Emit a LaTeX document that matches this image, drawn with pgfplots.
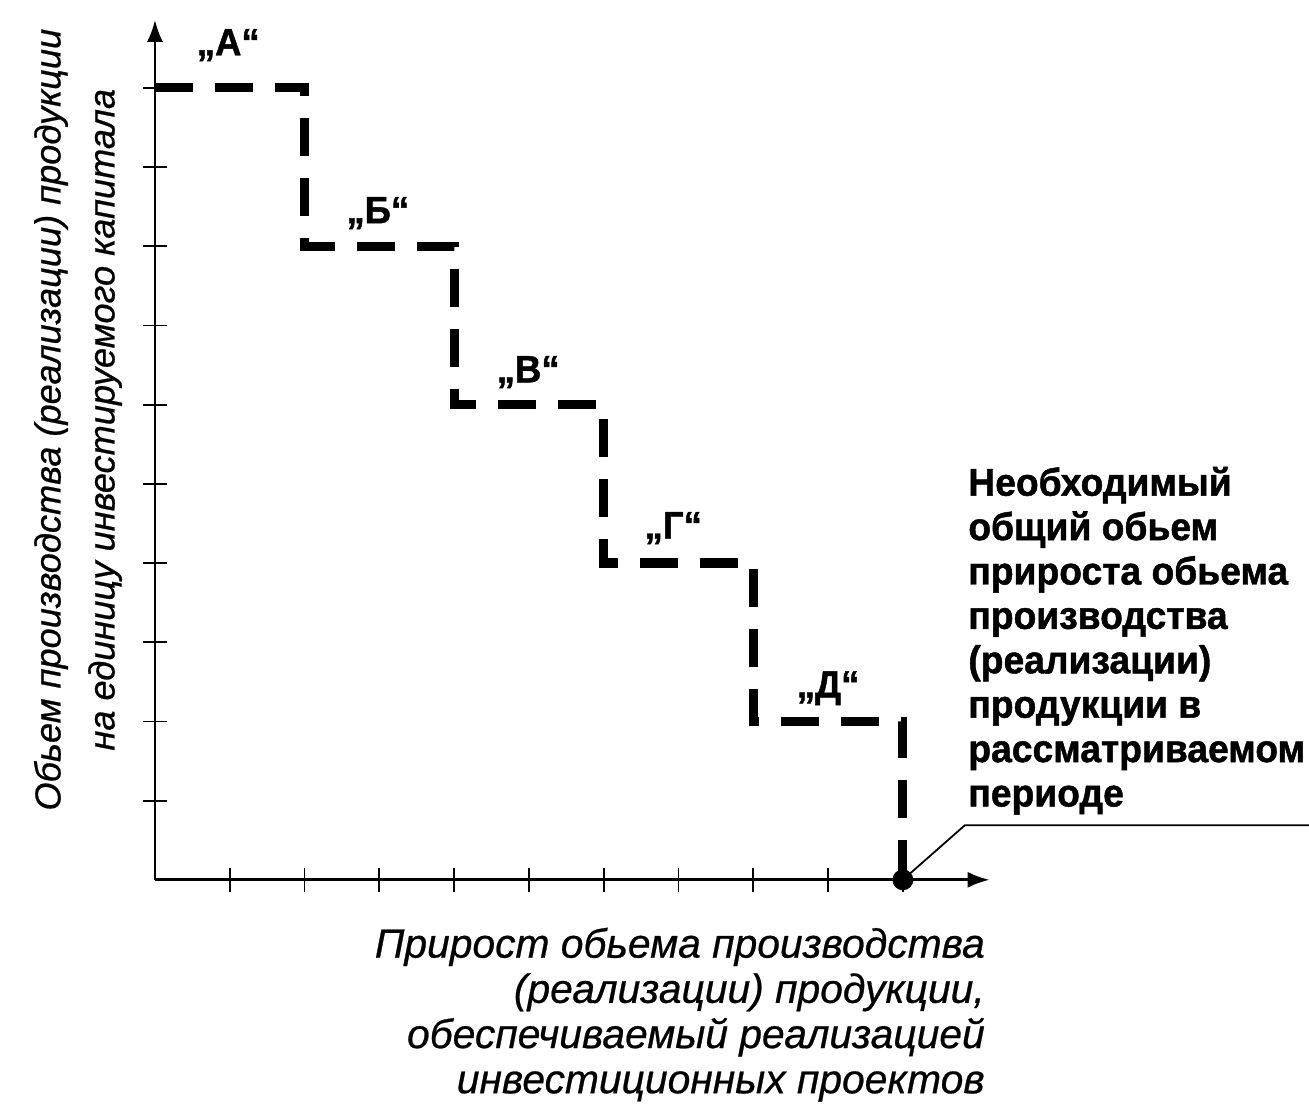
\documentclass[border=0pt]{standalone}
\usepackage{pgfplots}
\pgfplotsset{compat=1.18}
\usepackage{fontspec}
\usetikzlibrary{arrows.meta}
\setmainfont{Liberation Sans}[
  BoldFeatures={FakeBold=1.2, FakeStretch=0.96},
  ItalicFeatures={FakeBold=0.6}]

\begin{document}
\begin{tikzpicture}
\begin{axis}[
  x=37.4pt, y=39.6pt,
  xmin=0, xmax=11.16,
  ymin=0, ymax=10.86,
  axis lines=left,
  axis line style={line width=1.4pt, -{Latex[length=11pt,width=8pt]}},
  xtick={1,...,10}, ytick={1,...,10},
  xticklabels={}, yticklabels={},
  tick align=center,
  major tick length=12pt,
  tick style={line width=0.9pt, black},
  clip=false,
]
  % step line
  \addplot[black, line width=4.6pt, dash pattern=on 19pt off 11pt, line cap=butt] coordinates {
    (0,10) (2,10) (2,8) (4,8) (4,6) (6,6) (6,4) (8,4) (8,2) (10,2) (10,0)
  };
  % end point
  \addplot[only marks, mark=*, mark size=5pt, black] coordinates {(10,0)};

  \coordinate (bl) at (axis cs:-2.072,-2.89);
  \coordinate (tr) at (axis cs:15.43,11.11);

  \begin{scope}[font=\fontsize{19}{22}\selectfont\bfseries]
    \node at (axis cs:0.98,10.54) {„А“};
    \node at (axis cs:2.98,8.42) {„Б“};
    \node at (axis cs:4.99,6.41) {„В“};
    \node at (axis cs:6.93,4.44) {„Г“};
    \node at (axis cs:9.0,2.42) {„Д“};
  \end{scope}

  \draw[line width=0.9pt] (axis cs:10,0) -- (axis cs:10.83,0.69) -- (axis cs:15.43,0.69);

  \node[anchor=north west, align=left, inner sep=0pt,
        font=\fontsize{19.4}{22.2}\selectfont\bfseries]
    at (axis cs:10.87,5.22)
    {Необходимый\\общий обьем\\прироста обьема\\производства\\(реализации)\\продукции в\\рассматриваемом\\периоде};

  \node[anchor=north east, align=right, inner sep=0pt,
        font=\fontsize{20.4}{22.6}\selectfont\itshape]
    at (axis cs:11.1,-0.6)
    {Прирост обьема производства\\(реализации) продукции,\\обеспечиваемый реализацией\\инвестиционных проектов};

  \node[rotate=90, align=center, inner sep=0pt,
        font=\fontsize{18.1}{27}\selectfont\itshape]
    at (axis cs:-1.03,5.81)
    {Обьем производства (реализации) продукции\\на единицу инвестируемого капитала};
\end{axis}
\pgfresetboundingbox
\path[use as bounding box] (bl) rectangle (tr);
\end{tikzpicture}
\end{document}
